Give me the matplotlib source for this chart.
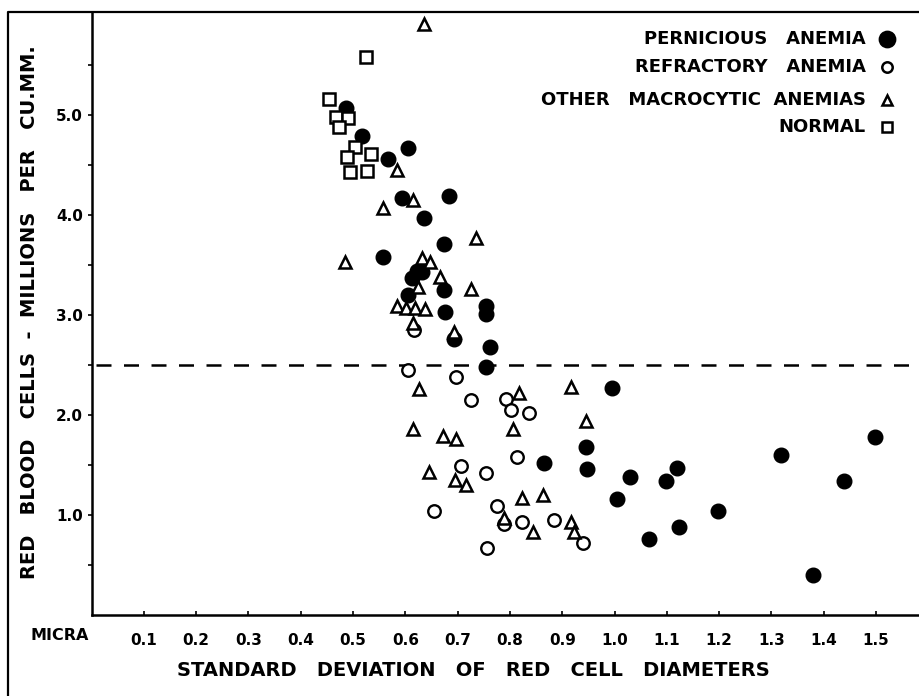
import matplotlib
matplotlib.use("Agg")
import matplotlib.pyplot as plt

# values (x = SD of red cell diameters in micra, y = RBC millions per cu.mm.)
pernicious_x = [0.487, 0.517, 0.566, 0.606, 0.593, 0.684, 0.636, 0.674, 0.558, 0.623,
                0.631, 0.612, 0.674, 0.606, 0.676, 0.754, 0.754, 0.693, 0.762, 0.754,
                0.995, 0.945, 0.865, 0.947, 1.030, 1.005, 1.119, 1.098, 1.198, 1.124,
                1.066, 1.318, 1.499, 1.439, 1.380]
pernicious_y = [5.07, 4.79, 4.56, 4.67, 4.17, 4.19, 3.97, 3.71, 3.58, 3.44,
                3.43, 3.37, 3.25, 3.20, 3.03, 3.09, 3.01, 2.76, 2.68, 2.48,
                2.27, 1.68, 1.52, 1.46, 1.38, 1.16, 1.47, 1.34, 1.04, 0.88,
                0.76, 1.60, 1.78, 1.34, 0.40]

refractory_x = [0.617, 0.605, 0.697, 0.725, 0.793, 0.803, 0.837, 0.813, 0.706, 0.754,
                0.654, 0.775, 0.789, 0.824, 0.885, 0.939, 0.757]
refractory_y = [2.85, 2.45, 2.38, 2.15, 2.16, 2.05, 2.02, 1.58, 1.49, 1.42,
                1.04, 1.09, 0.91, 0.93, 0.95, 0.72, 0.67]

other_x = [0.635, 0.584, 0.615, 0.557, 0.735, 0.485, 0.631, 0.647, 0.666, 0.625,
           0.725, 0.584, 0.601, 0.619, 0.637, 0.615, 0.693, 0.626, 0.818, 0.916,
           0.945, 0.615, 0.673, 0.697, 0.805, 0.646, 0.695, 0.716, 0.824, 0.864,
           0.789, 0.845, 0.916, 0.923]
other_y = [5.91, 4.45, 4.15, 4.07, 3.77, 3.53, 3.57, 3.53, 3.38, 3.28,
           3.26, 3.09, 3.07, 3.07, 3.06, 2.92, 2.83, 2.26, 2.22, 2.28,
           1.94, 1.86, 1.79, 1.76, 1.86, 1.43, 1.35, 1.30, 1.17, 1.20,
           0.97, 0.83, 0.93, 0.83]

normal_x = [0.524, 0.455, 0.468, 0.490, 0.474, 0.504, 0.488, 0.534, 0.494, 0.526]
normal_y = [5.58, 5.16, 4.98, 4.97, 4.88, 4.68, 4.58, 4.61, 4.43, 4.44]

x_ticks = [0.1, 0.2, 0.3, 0.4, 0.5, 0.6, 0.7, 0.8, 0.9, 1.0, 1.1, 1.2, 1.3, 1.4, 1.5]
x_labels = ["0.1", "0.2", "0.3", "0.4", "0.5", "0.6", "0.7", "0.8", "0.9",
            "1.0", "1.1", "1.2", "1.3", "1.4", "1.5"]
y_ticks = [1.0, 2.0, 3.0, 4.0, 5.0]
y_labels = ["1.0", "2.0", "3.0", "4.0", "5.0"]
threshold = 2.5

plt.rcParams['font.family'] = 'DejaVu Sans'
plt.rcParams['font.weight'] = 'bold'

fig = plt.figure(figsize=(9.19, 6.96), dpi=100)
W, H = 919, 696
ax = fig.add_axes([91.5 / W, (H - 615) / H, (W - 91.5) / W, (615 - 12) / H])

ax.set_xlim(0, (W - 91.5) / 523)
ax.set_ylim(0, (615 - 12) / 100)

# frame: left line and top line only (image is cut on the right and bottom)
fig.lines.append(plt.Line2D([8 / W, 8 / W, 1.0], [0.0, 1 - 12 / H, 1 - 12 / H],
                            transform=fig.transFigure, color='black', lw=1.6))

ax.axhline(threshold, xmin=0.005, xmax=1.0, color='black', lw=1.8, ls=(0, (6, 5)))

ax.plot(pernicious_x, pernicious_y, 'o', ms=10.5, mfc='black', mec='black', ls='none', clip_on=False)
ax.plot(refractory_x, refractory_y, 'o', ms=9, mfc='white', mec='black', mew=1.7, ls='none')
ax.plot(other_x, other_y, '^', ms=8.5, mfc='white', mec='black', mew=1.8, ls='none', clip_on=False)
ax.plot(normal_x, normal_y, 's', ms=8.5, mfc='white', mec='black', mew=1.8, ls='none')

for s in ['top', 'right']:
    ax.spines[s].set_visible(False)
for s in ['left', 'bottom']:
    ax.spines[s].set_linewidth(1.8)

ax.set_xticks(x_ticks)
ax.set_xticklabels(x_labels, fontsize=11, fontweight='bold')
ax.set_yticks(y_ticks)
ax.set_yticklabels(y_labels, fontsize=11, fontweight='bold')
ax.set_yticks([0.5, 1.5, 2.5, 3.5, 4.5, 5.5], minor=True)
ax.tick_params(axis='x', direction='in', length=3, width=1.2, pad=13)
ax.tick_params(axis='y', which='both', direction='out', length=3, width=1.2, pad=3)

fig.text(60 / W, 1 - 636 / H, "MICRA", ha='center', va='center', fontsize=11.5, fontweight='bold')
fig.text(473 / W, 1 - 670 / H, "STANDARD   DEVIATION   OF   RED   CELL   DIAMETERS",
         ha='center', va='center', fontsize=14, fontweight='bold')
fig.text(30 / W, 1 - 312 / H, "RED   BLOOD   CELLS  -  MILLIONS   PER   CU.MM.",
         ha='center', va='center', rotation=90, fontsize=14, fontweight='bold')

# legend, right aligned text with marker after it
legend_rows = [("PERNICIOUS   ANEMIA", 'o', 'black', 39),
               ("REFRACTORY   ANEMIA", 'o', 'white', 67),
               ("OTHER   MACROCYTIC  ANEMIAS", '^', 'white', 100),
               ("NORMAL", 's', 'white', 127)]
for label, m, fc, ypix in legend_rows:
    fig.text(866 / W, 1 - ypix / H, label, ha='right', va='center', fontsize=13, fontweight='bold')
    ms = 11 if fc == 'black' else 7.5
    fig.lines.append(plt.Line2D([887 / W], [1 - ypix / H], marker=m, ms=ms, mfc=fc, mec='black',
                                mew=1.8, ls='none', transform=fig.transFigure))

fig.savefig("out.png", dpi=100)
